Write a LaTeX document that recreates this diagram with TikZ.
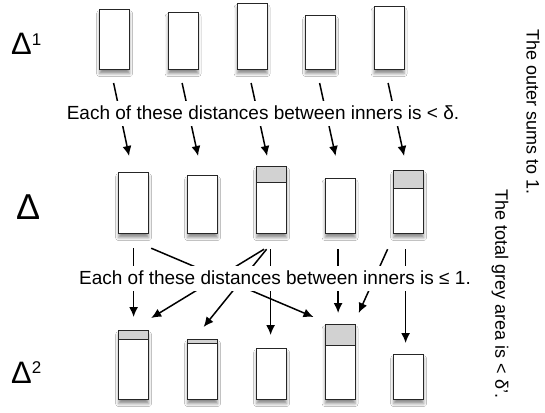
\documentclass[tikz,border=0pt]{standalone}
\usepackage{fontspec}
\setmainfont{Liberation Sans}
\usetikzlibrary{arrows.meta,shadows.blur,calc}
\begin{document}
\begin{tikzpicture}[x=1pt,y=-1pt,
  box/.style={draw=black!85, line width=1.2pt, fill=white, minimum width=30pt,
    inner sep=0pt, anchor=north west,
    blur shadow={shadow xshift=0pt, shadow yshift=-4pt, shadow blur radius=3pt, shadow opacity=45}},
  band/.style={path picture={
    \fill[gray!35] (path picture bounding box.north west) rectangle ([yshift=-#1]path picture bounding box.north east);
    \draw[black!85,line width=1.2pt] ([yshift=-#1]path picture bounding box.north west) -- ([yshift=-#1]path picture bounding box.north east);}},
  arr/.style={line width=1.5pt, -{Latex[length=10pt,width=9pt]}},
  lbl/.style={fill=white, inner xsep=2pt, inner ysep=0pt, minimum height=25pt,
    font=\fontsize{19}{19}\selectfont},
  rot/.style={inner sep=0pt, rotate=-90, font=\fontsize{18}{18}\selectfont},
  dlt/.style={inner sep=0pt, anchor=base west}
]
\useasboundingbox (0,0) rectangle (545,412);
\fill[white] (0,0) rectangle (545,412);

% top row
\node[box,minimum height=60pt] (T1) at (99,9) {};
\node[box,minimum height=57pt] (T2) at (167.5,12) {};
\node[box,minimum height=66pt] (T3) at (236.5,3) {};
\node[box,minimum height=54pt] (T4) at (305,15) {};
\node[box,minimum height=63pt] (T5) at (373.5,6) {};
% middle row
\node[box,minimum height=61pt] (M1) at (118,172) {};
\node[box,minimum height=58pt] (M2) at (187,175) {};
\node[box,minimum height=67pt,band=16pt] (M3) at (256,166) {};
\node[box,minimum height=55pt] (M4) at (324.5,178) {};
\node[box,minimum height=63pt,band=18pt] (M5) at (393,170) {};
% bottom row
\node[box,minimum height=69pt,band=9pt] (B1) at (118,330) {};
\node[box,minimum height=60pt,band=3.5pt] (B2) at (187,339) {};
\node[box,minimum height=51pt] (B3) at (256,348) {};
\node[box,minimum height=75pt,band=21pt] (B4) at (324.5,324) {};
\node[box,minimum height=45pt] (B5) at (393,354) {};

% labels
\node[dlt] (d1) at (11,54) {\fontsize{31}{31}\selectfont Δ\raisebox{9pt}{\fontsize{17}{17}\selectfont 1}};
\node[dlt] (d0) at (16,219) {\fontsize{36}{36}\selectfont Δ};
\node[dlt] (d2) at (11,383) {\fontsize{31}{31}\selectfont Δ\raisebox{10pt}{\fontsize{17}{17}\selectfont 2}};

% top -> middle arrows
\coordinate (s1) at (0,83);
\coordinate (e1) at (0,156);
\foreach \i in {1,...,5}{
  \draw[arr] ($(T\i.south |- s1)+(-1,0)$) -- ($(M\i.north |- e1)+(-4.5,0)$);
}

% middle -> bottom arrows
\draw[arr] ($(M1.south)+(0,14)$) -- ($(B1.north)+(0,-13)$);
\draw[arr] ($(M1.south east)+(2,14)$) -- ($(B4.north west)+(-11,-7)$);
\draw[arr] ($(M3.south)+(-7.5,15)$) -- ($(B1.north east)+(2,-12)$);
\draw[arr] ($(M3.south)+(-5,15)$) -- ($(B2.north)+(1,-12)$);
\draw[arr] ($(M3.south)+(-1,15)$) -- ($(B3.north)+(-1,-13)$);
\draw[arr] ($(M4.south)+(-2,15)$) -- ($(B4.north)+(-2,-11)$);
\draw[arr] ($(M5.south)+(-21,15)$) -- ($(B4.north east)+(3,-11)$);
\draw[arr] ($(M5.south)+(-3,15)$) -- ($(B5.north)+(-3,-11)$);

% texts
\node[lbl] (t1) at (263,113) {Each of these distances between inners is < δ.};
\node[lbl] (t2) at (275,278) {Each of these distances between inners is ≤ 1.};
\node[rot] (r1) at (533,112) {The outer sums to 1.};
\node[rot] (r2) at (500,294) {The total grey area is < δ'.};
\end{tikzpicture}
\end{document}
